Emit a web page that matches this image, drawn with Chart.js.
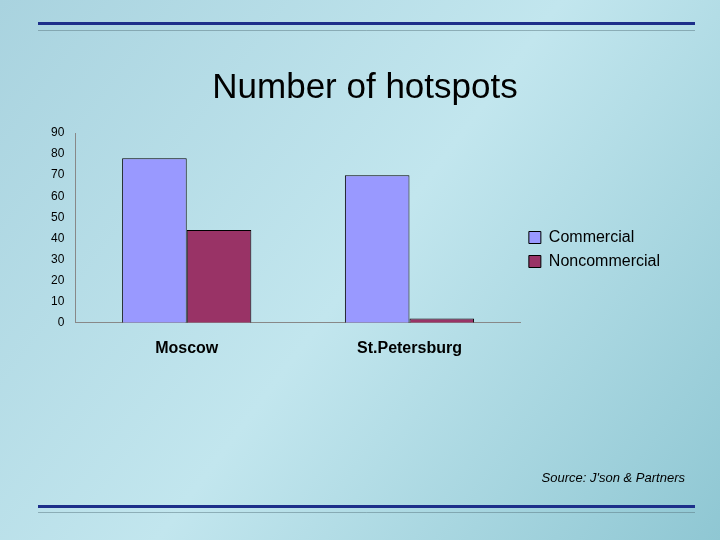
<!DOCTYPE html>
<html><head><meta charset="utf-8">
<script src="https://cdn.jsdelivr.net/npm/chart.js@4"></script>
<style>html,body{margin:0;padding:0;}#w{position:relative;width:720px;height:540px;}</style>
</head><body><div id="w"><canvas id="c" width="720" height="540"></canvas></div>
<script>
const categories = ["Moscow", "St.Petersburg"];
const commercial = [78, 70];
const noncommercial = [44, 2];
const yTicks = [0,10,20,30,40,50,60,70,80,90];

const bg = {
  id:'bg',
  beforeDraw(ch){
    const c=ch.ctx, W=ch.width, H=ch.height;
    const g=c.createLinearGradient(0,0,W,H);
    g.addColorStop(0,'#a9d3df'); g.addColorStop(0.5,'#c2e6ee'); g.addColorStop(1,'#8fc7d3');
    c.save(); c.fillStyle=g; c.fillRect(0,0,W,H);
    c.fillStyle='#1d2f8a'; c.fillRect(38,22,657,3); c.fillRect(38,505,657,3);
    c.strokeStyle='rgba(90,120,130,0.5)'; c.lineWidth=1;
    c.beginPath(); c.moveTo(38,30.5); c.lineTo(695,30.5); c.moveTo(38,512.5); c.lineTo(695,512.5); c.stroke();
    c.fillStyle='#000'; c.font='35px "Liberation Sans", Arial'; c.textAlign='center'; c.textBaseline='middle';
    c.fillText('Number of hotspots',365,88);
    c.font='italic 13px "Liberation Sans", Arial'; c.textAlign='right';
    c.fillText("Source: J'son & Partners",685,478);
    c.restore();
  }
};

new Chart(document.getElementById('c'),{
  type:'bar',
  data:{labels:categories,datasets:[
    {label:'Commercial',data:commercial,backgroundColor:'#9999ff',borderColor:'#000',borderWidth:1,categoryPercentage:0.58,barPercentage:1},
    {label:'Noncommercial',data:noncommercial,backgroundColor:'#993366',borderColor:'#000',borderWidth:1,categoryPercentage:0.58,barPercentage:1}
  ]},
  plugins:[bg],
  options:{
    responsive:false,animation:false,
    layout:{padding:{left:48,right:50,top:133,bottom:174}},
    plugins:{
      legend:{position:'right',labels:{font:{size:16,family:'"Liberation Sans", Arial'},color:'#000',boxWidth:12,boxHeight:12,padding:8}},
      tooltip:{enabled:false}
    },
    scales:{
      x:{grid:{display:false,drawTicks:true},border:{color:'#888'},
         ticks:{color:'#000',font:{size:16,weight:'bold',family:'"Liberation Sans", Arial'},padding:8}},
      y:{min:0,max:90,afterBuildTicks(a){a.ticks=yTicks.map(v=>({value:v}));},
         grid:{display:false},border:{color:'#888'},
         ticks:{color:'#000',font:{size:12,family:'"Liberation Sans", Arial'}}}
    }
  }
});
</script></body></html>
